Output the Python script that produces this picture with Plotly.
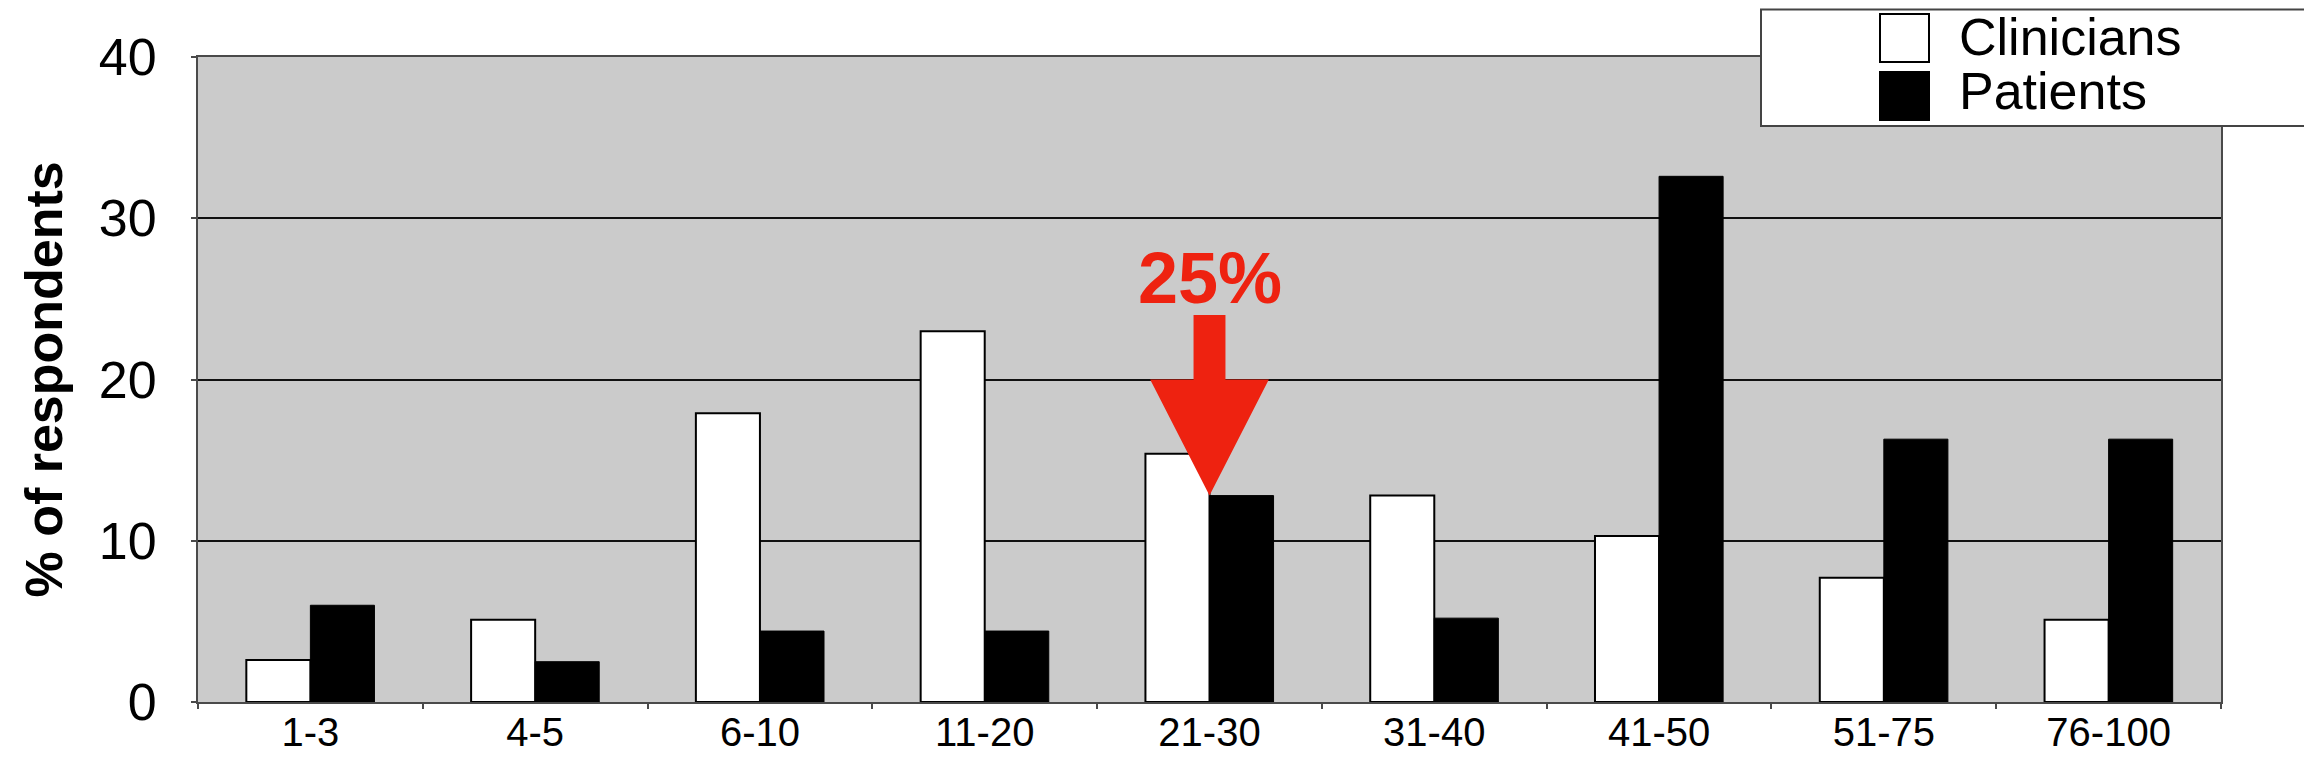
import plotly.graph_objects as go

# ---------------- data ----------------
categories = ["1-3", "4-5", "6-10", "11-20", "21-30", "31-40", "41-50", "51-75", "76-100"]
clinicians = [2.6, 5.1, 17.9, 23.0, 15.4, 12.8, 10.3, 7.7, 5.1]
patients = [6.0, 2.5, 4.4, 4.4, 12.8, 5.2, 32.6, 16.3, 16.3]
y_ticks = [0, 10, 20, 30, 40]
series_names = ["Clinicians", "Patients"]
highlight_category = "21-30"
highlight_label = "25%"

# ---------------- layout constants ----------------
W, H = 2304, 769
ML, MR, MT, MB = 198, 83, 57, 67
PW = W - ML - MR
PH = H - MT - MB
FONT = "Liberation Sans, Arial, Helvetica, sans-serif"
RED = "#ee2210"


def px_x(p):
    return (p - ML) / PW


def px_y(p):
    return (H - MB - p) / PH


fig = go.Figure()
fig.add_trace(go.Bar(
    name=series_names[0], x=categories, y=clinicians,
    marker=dict(color="white", line=dict(color="black", width=2)),
    showlegend=False,
))
fig.add_trace(go.Bar(
    name=series_names[1], x=categories, y=patients,
    marker=dict(color="black", line=dict(color="black", width=1)),
    showlegend=False,
))

shapes = []
annotations = []

# ---- red arrow pointing at the highlighted category ----
ai = categories.index(highlight_category)
tip_y = patients[ai]
head_base_y = 20.0
shaft_top_y = 24.0
head_hw = 0.264
shaft_hw = 0.071
path = (
    f"M{ai - shaft_hw},{shaft_top_y} L{ai + shaft_hw},{shaft_top_y} "
    f"L{ai + shaft_hw},{head_base_y} L{ai + head_hw},{head_base_y} "
    f"L{ai},{tip_y} L{ai - head_hw},{head_base_y} "
    f"L{ai - shaft_hw},{head_base_y} Z"
)
shapes.append(dict(type="path", xref="x", yref="y", path=path,
                   fillcolor=RED, line=dict(width=0), layer="above"))
annotations.append(dict(
    x=ai, y=26.3, xref="x", yref="y", text=f"<b>{highlight_label}</b>",
    showarrow=False, xanchor="center", yanchor="middle",
    font=dict(family=FONT, size=72, color=RED),
))

# ---- custom legend (box, swatches, labels) ----
shapes.append(dict(type="rect", xref="paper", yref="paper",
                   x0=px_x(1761), x1=px_x(2330), y0=px_y(126), y1=px_y(9.5),
                   fillcolor="white", line=dict(color="#444444", width=2),
                   layer="above"))
swatch = [(14, 62, "white"), (72, 120, "black")]
label_y = [37, 91]
for (y0, y1, col), ly, name in zip(swatch, label_y, series_names):
    shapes.append(dict(type="rect", xref="paper", yref="paper",
                       x0=px_x(1880), x1=px_x(1929), y0=px_y(y1), y1=px_y(y0),
                       fillcolor=col, line=dict(color="black", width=2),
                       layer="above"))
    annotations.append(dict(
        x=px_x(1957), y=px_y(ly), xref="paper", yref="paper", text=name,
        showarrow=False, xanchor="left", yanchor="middle",
        font=dict(family=FONT, size=52, color="black"),
    ))

# ---- y-axis title ----
annotations.append(dict(
    x=px_x(43), y=0.5, xref="paper", yref="paper",
    text="<b>% of respondents</b>", textangle=-90,
    showarrow=False, xanchor="center", yanchor="middle",
    font=dict(family=FONT, size=52, color="black"),
))

fig.update_layout(
    width=W, height=H,
    margin=dict(l=ML, r=MR, t=MT, b=MB, pad=0, autoexpand=False),
    paper_bgcolor="white",
    plot_bgcolor="#cbcbcb",
    barmode="group",
    bargap=0.43,
    bargroupgap=0.0,
    showlegend=False,
    font=dict(family=FONT, color="black"),
    shapes=shapes,
    annotations=annotations,
)
fig.update_xaxes(
    type="category", categoryorder="array", categoryarray=categories,
    automargin=False,
    showline=True, linecolor="#4a4a4a", linewidth=2, mirror=True,
    ticks="outside", ticklen=5, tickcolor="#4a4a4a", tickwidth=2,
    tickson="boundaries", showgrid=False,
    tickfont=dict(family=FONT, size=40, color="black"),
    ticklabelstandoff=-6,
)
fig.update_yaxes(
    range=[0, 40], tickvals=y_ticks,
    automargin=False,
    showline=True, linecolor="#4a4a4a", linewidth=2, mirror=True,
    ticks="outside", ticklen=5, tickcolor="#4a4a4a", tickwidth=2,
    showgrid=True, gridcolor="#111111", gridwidth=1.5,
    zeroline=False,
    tickfont=dict(family=FONT, size=52, color="black"),
    ticklabelstandoff=24,
)

fig.write_html("out.html")
